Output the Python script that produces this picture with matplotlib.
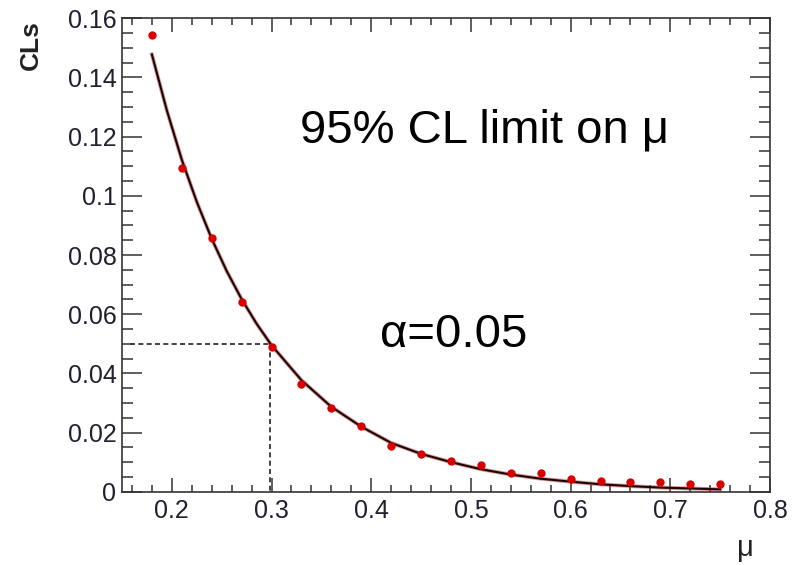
import numpy as np
import matplotlib
matplotlib.use('Agg')
import matplotlib.pyplot as plt
from matplotlib.ticker import MultipleLocator

plt.rcParams['font.family'] = ['Liberation Sans', 'DejaVu Sans']

# CLs scan points
mu_points = [0.18, 0.21, 0.24, 0.27, 0.30, 0.33, 0.36, 0.39, 0.42, 0.45,
             0.48, 0.51, 0.54, 0.57, 0.60, 0.63, 0.66, 0.69, 0.72, 0.75]
cls_points = [0.1543, 0.1093, 0.0856, 0.0642, 0.0490, 0.0363, 0.0282, 0.0222,
              0.0154, 0.0126, 0.0104, 0.0089, 0.0064, 0.0064, 0.0044, 0.0036,
              0.0033, 0.0033, 0.0026, 0.0026]

# fitted curve
mu_fit = [0.18, 0.195, 0.21, 0.225, 0.24, 0.255, 0.27, 0.285, 0.30, 0.33,
          0.36, 0.39, 0.42, 0.45, 0.48, 0.51, 0.54, 0.57, 0.60, 0.63,
          0.66, 0.69, 0.72, 0.75]
cls_fit = [0.1478, 0.1289, 0.1122, 0.0980, 0.0855, 0.0746, 0.0651, 0.0568,
           0.0495, 0.0377, 0.0287, 0.0220, 0.0165, 0.0128, 0.0100, 0.0076,
           0.0058, 0.0044, 0.0034, 0.0025, 0.0019, 0.0014, 0.0011, 0.0008]

# limit
alpha_level = 0.05
mu_limit = 0.298
line_start = 0.158

fig = plt.figure(figsize=(7.92, 5.65), dpi=100)
ax = fig.add_axes([0.154, 0.1297, 0.8182, 0.8379])

ax.plot(mu_fit, cls_fit, color='#c03030', lw=2.8, alpha=0.5, zorder=2)
ax.plot(mu_fit, cls_fit, color='#1a0505', lw=1.5, zorder=3)
ax.plot(mu_points, cls_points, 'o', color='#d90000', ms=6, mec='none', zorder=4)

ax.plot([line_start, mu_limit], [alpha_level, alpha_level], ls=(0, (3, 2)),
        color='#222222', lw=1.2, zorder=1)
ax.plot([mu_limit, mu_limit], [alpha_level, 0], ls=(0, (3, 2)),
        color='#222222', lw=1.2, zorder=1)

ax.set_xlim(0.15, 0.8)
ax.set_ylim(0, 0.16)

ax.xaxis.set_minor_locator(MultipleLocator(0.02))
ax.yaxis.set_minor_locator(MultipleLocator(0.005))
ax.set_xticks([0.2, 0.3, 0.4, 0.5, 0.6, 0.7, 0.8])
ax.set_xticklabels(['0.2', '0.3', '0.4', '0.5', '0.6', '0.7', '0.8'])
ax.set_yticks([0, 0.02, 0.04, 0.06, 0.08, 0.1, 0.12, 0.14, 0.16])
ax.set_yticklabels(['0', '0.02', '0.04', '0.06', '0.08', '0.1', '0.12', '0.14', '0.16'])

ax.tick_params(axis='x', which='major', direction='in', length=10, width=1.1,
               top=True, labelsize=18, pad=5, colors='#333333', labelcolor='#202030')
ax.tick_params(axis='x', which='minor', direction='in', length=5, width=1.1,
               top=True, colors='#333333')
ax.tick_params(axis='y', which='major', direction='in', length=14.5, width=1.1,
               right=True, labelsize=18, pad=4, colors='#333333', labelcolor='#202030')
ax.tick_params(axis='y', which='minor', direction='in', length=8, width=1.1,
               right=True, colors='#333333')
for s in ax.spines.values():
    s.set_color('#333333')
    s.set_linewidth(1.2)

# axis titles, ROOT style (at the ends of the axes)
fig.text(0.0391, 0.9646, 'CLs', fontsize=19, fontweight='bold', color='#222222',
         rotation=90, ha='center', va='top')
ax.text(0.975, -0.1357, 'μ', transform=ax.transAxes, fontsize=21,
        color='#222222', ha='right', va='baseline')

ax.text(0.329, 0.1181, '95% CL limit on μ', fontsize=34, color='black', va='baseline')
ax.text(0.409, 0.049, 'α=0.05', fontsize=34, color='black', va='baseline')

fig.savefig('out.png', dpi=100)
